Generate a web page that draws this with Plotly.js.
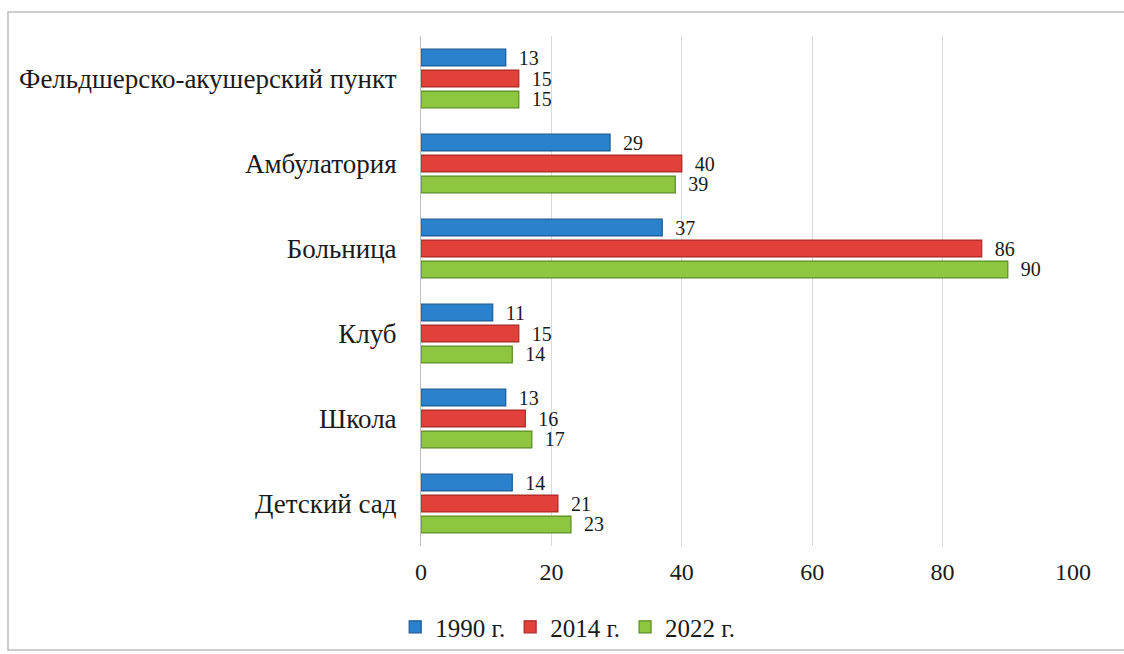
<!DOCTYPE html>
<html>
<head>
<meta charset="utf-8">
<script src="https://cdn.plot.ly/plotly-3.0.1.min.js"></script>
<style>
html,body{margin:0;padding:0;background:#fff;}
#chart{width:1124px;height:654px;}
</style>
</head>
<body>
<div id="chart"></div>
<script>
const categories = ['Фельдшерско-акушерский пункт','Амбулатория','Больница','Клуб','Школа','Детский сад'];
const seriesNames = ['1990 г.','2014 г.','2022 г.'];
const values1990 = [13, 29, 37, 11, 13, 14];
const values2014 = [15, 40, 86, 15, 16, 21];
const values2022 = [15, 39, 90, 14, 17, 23];
const xTicks = [0, 20, 40, 60, 80, 100];

const fills = ['#2b82cc','#e2403b','#8dc63f'];
const edges = ['#1b5a96','#a82a25','#5a8c22'];
const allValues = [values1990, values2014, values2022];

const serif = '"Liberation Serif", "Times New Roman", serif';

const traces = allValues.map((vals, i) => ({
  type: 'bar',
  orientation: 'h',
  name: seriesNames[i],
  y: categories,
  x: vals,
  marker: {color: fills[i], line: {color: edges[i], width: 1.2}},
  text: vals.map(v => String(v)),
  texttemplate: '\u00a0\u00a0%{text}',
  textposition: 'outside',
  constraintext: 'none',
  cliponaxis: false,
  textfont: {family: serif, size: 20, color: '#1a1a1a'},
  hoverinfo: 'x+y'
}));

const layout = {
  width: 1124,
  height: 654,
  margin: {l: 421, r: 51, t: 36, b: 108, autoexpand: false},
  paper_bgcolor: '#ffffff',
  plot_bgcolor: '#ffffff',
  barmode: 'group',
  bargap: 0.26,
  bargroupgap: 0.2,
  showlegend: true,
  legend: {
    orientation: 'h',
    x: 0.225, xanchor: 'center',
    y: -0.159, yanchor: 'middle',
    bgcolor: 'rgba(0,0,0,0)',
    font: {family: serif, size: 25, color: '#1a1a1a'},
    itemwidth: 30,
    tracegroupgap: 0
  },
  xaxis: {
    range: [0, 100],
    tickvals: xTicks,
    ticktext: xTicks.map(String),
    showgrid: true,
    gridcolor: '#d9d9d9',
    gridwidth: 1,
    zeroline: false,
    showline: false,
    ticks: '',
    tickfont: {family: serif, size: 24, color: '#1a1a1a'},
    ticklabelstandoff: 9
  },
  yaxis: {
    type: 'category',
    autorange: 'reversed',
    showgrid: false,
    zeroline: false,
    showline: true,
    linecolor: '#bfbfbf',
    linewidth: 1,
    ticks: '',
    ticklabelstandoff: 18,
    tickfont: {family: serif, size: 27, color: '#1a1a1a'}
  },
  shapes: [{
    type: 'rect', xref: 'paper', yref: 'paper',
    x0: (8 - 421) / 652, x1: 1.2,
    y0: (546 - 650) / 510, y1: (546 - 12) / 510,
    line: {color: '#bdbdbd', width: 1.5},
    fillcolor: 'rgba(0,0,0,0)',
    layer: 'below'
  }]
};

Plotly.newPlot('chart', traces, layout, {displayModeBar: false, staticPlot: true});
</script>
</body>
</html>
